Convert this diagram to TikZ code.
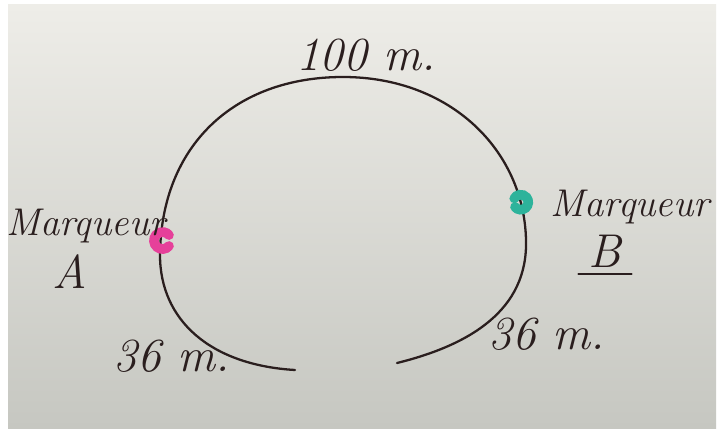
\documentclass[tikz,border=0pt]{standalone}
\usetikzlibrary{calc}
\definecolor{paperTop}{HTML}{EEEDE8}
\definecolor{paperBot}{HTML}{C6C7C1}
\definecolor{ink}{HTML}{2A1E1E}
\definecolor{pinkmk}{HTML}{E6409A}
\definecolor{tealmk}{HTML}{2DB39B}
\tikzset{
  lbl/.style={text=ink, font=\fontsize{22}{24}\selectfont\itshape, inner sep=0pt},
  biglbl/.style={lbl, font=\fontsize{27}{30}\selectfont\itshape},
  loopline/.style={draw=ink, line width=1.3pt, line cap=round},
  marker/.style={line width=5.5pt, line cap=round}
}
\begin{document}
\begin{tikzpicture}[x=0.02cm, y=-0.02cm]
\useasboundingbox (0,0) rectangle (722,438);
\fill[white] (0,0) rectangle (722,438);
\shade[top color=paperTop, bottom color=paperBot] (8,5) rectangle (716,428);
% the loop
\coordinate (endL) at (295,370);
\coordinate (endR) at (397,363);
\coordinate (pL) at (160,255);
\coordinate (pT) at (343,77);
\coordinate (pR) at (526,240);
\draw[loopline] (endL) .. controls (210,365) and (160,320) .. (pL)
  .. controls (161,145) and (235,77) .. (pT)
  .. controls (450,77) and (524,150) .. (pR)
  .. controls (528,310) and (470,345) .. (endR);
% markers
\coordinate (mA) at (162,252);
\coordinate (mB) at (521,213);
\draw[marker, pinkmk] ($(mA)+(7,-6)$) arc[start angle=40, end angle=320, radius=8.5];
\draw[marker, tealmk] ($(mB)+(-6,-6)$) arc[start angle=140, end angle=-150, radius=7.5];
% labels
\node[biglbl] (top) at (366,55) {100 m.};
\node[lbl] (mqA) at (86,226) {Marqueur};
\node[biglbl] (lA) at (70,272) {A};
\node[lbl] (mqB) at (630,207) {Marqueur};
\node[biglbl] (lB) at (605,251) {B};
\draw[ink, line width=1.1pt, line cap=round] ($(lB.south west)+(-10,6)$) -- ($(lB.south east)+(10,6)$);
\node[biglbl] (dL) at (172,356) {36 m.};
\node[biglbl] (dR) at (547,334) {36 m.};
\end{tikzpicture}
\end{document}
